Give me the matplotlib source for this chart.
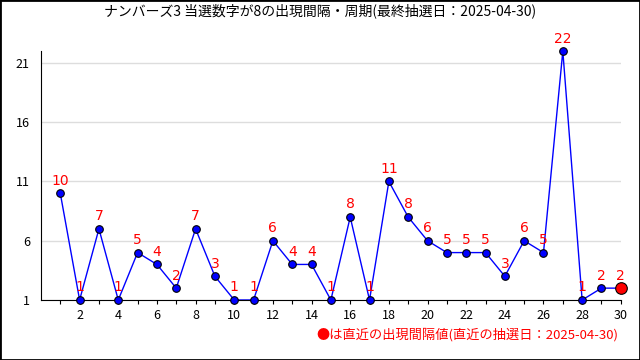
import matplotlib
matplotlib.use("Agg")
import matplotlib.pyplot as plt
from matplotlib.patches import Rectangle

plt.rcParams['font.family'] = ['Noto Sans CJK JP', 'DejaVu Sans']

draws = list(range(1, 31))
gaps = [10, 1, 7, 1, 5, 4, 2, 7, 3, 1, 1, 6, 4, 4, 1, 8, 1, 11, 8, 6,
        5, 5, 5, 3, 6, 5, 22, 1, 2, 2]
title = "ナンバーズ3 当選数字が8の出現間隔・周期(最終抽選日：2025-04-30)"
note = "●は直近の出現間隔値(直近の抽選日：2025-04-30)"

fig = plt.figure(figsize=(6.4, 3.6), dpi=100)
ax = fig.add_axes([0.064, 0.1667, 0.906, 0.6913])

ax.plot(draws, gaps, color='blue', lw=1, zorder=2, clip_on=False)
ax.scatter(draws[:-1], gaps[:-1], s=30, color='blue', edgecolors='black',
           linewidths=0.8, zorder=3, clip_on=False)
ax.scatter(draws[-1:], gaps[-1:], s=70, color='red', edgecolors='black',
           linewidths=0.8, zorder=4, clip_on=False)
for x, y in zip(draws, gaps):
    ax.annotate(str(y), (x, y), xytext=(0, 4), textcoords='offset points',
                ha='center', va='bottom', color='red', fontsize=10,
                family='DejaVu Sans')

ax.set_xlim(0, 30)
ax.set_ylim(1, 22)
ax.set_xticks(draws)
ax.set_xticklabels([str(d) if d % 2 == 0 else '' for d in draws])
ax.set_yticks([1, 6, 11, 16, 21])
ax.tick_params(axis='y', length=0, labelsize=9, pad=8)
ax.tick_params(axis='x', length=3, labelsize=9, direction='out')
ax.grid(axis='y', color='#dddddd', lw=1)
ax.set_axisbelow(True)
for s in ['top', 'right']:
    ax.spines[s].set_visible(False)

fig.text(0.5, 0.97, title, ha='center', va='center', fontsize=10)
fig.text(0.966, 0.07, note, ha='right', va='center', fontsize=9.5, color='red')
fig.patches.append(Rectangle((0, 0), 1, 1, transform=fig.transFigure,
                             fill=False, edgecolor='black', lw=2))

fig.savefig('out.png', dpi=100)
